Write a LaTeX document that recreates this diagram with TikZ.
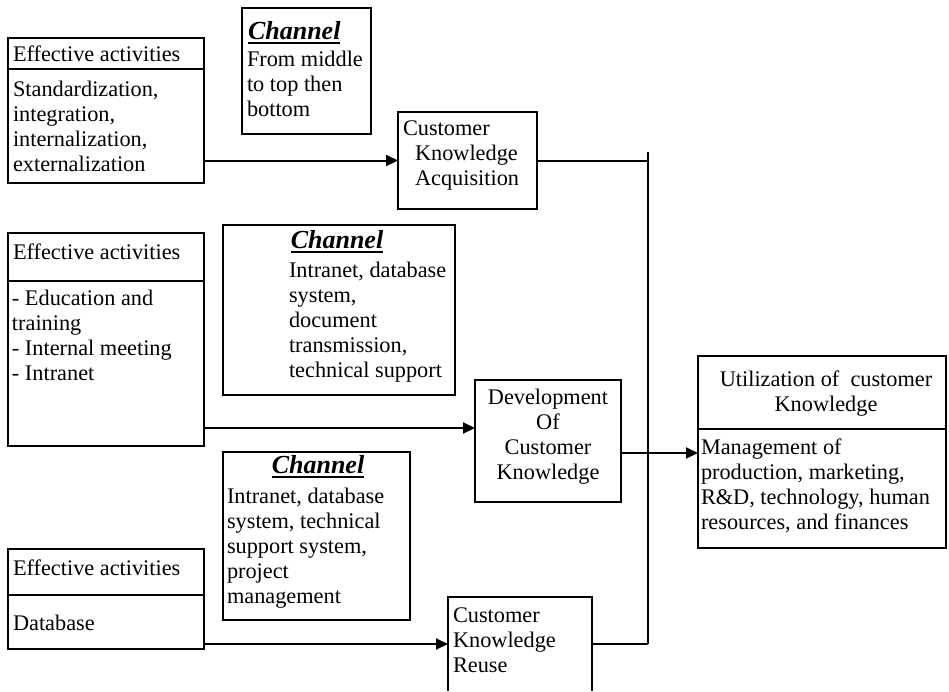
\documentclass[tikz,border=0pt]{standalone}
\usepackage{fontspec}
\setmainfont{Liberation Serif}
\usetikzlibrary{arrows.meta,calc}
\begin{document}
\begin{tikzpicture}[x=1pt,y=-1pt,
  frame/.style={draw, line width=1.5pt, inner sep=0pt, outer sep=0pt, anchor=north west},
  txt/.style={inner sep=0pt, outer sep=0pt, align=left, anchor=west, font=\fontsize{22.3}{25}\selectfont},
  ctxt/.style={txt, align=center, anchor=center},
  chan/.style={inner sep=0pt, outer sep=0pt, font=\fontsize{26}{30}\selectfont\bfseries\itshape},
  uline/.style={line width=2pt},
  conn/.style={line width=2pt},
  arr/.style={conn, -{Triangle[length=12pt,width=11pt]}}]
\useasboundingbox (0,0) rectangle (949,691);

% effective activities: acquisition
\node[frame, minimum width=196pt, minimum height=31pt] (ea1h) at (8,38) {};
\node[frame, minimum width=196pt, minimum height=114pt] (ea1b) at (8,69) {};
\node[txt] (ea1ht) at (13,54) {Effective activities};
\node[txt] (ea1bt) at (13,126) {Standardization,\\integration,\\internalization,\\externalization};

% channel: acquisition
\node[frame, minimum width=129pt, minimum height=126pt] (ch1) at (242,8) {};
\node[chan, anchor=west] (ch1t) at (248,31) {Channel};
\draw[uline] ([yshift=-3pt]ch1t.south west) -- ([yshift=-3pt]ch1t.south east);
\node[txt] (ch1b) at (247,84) {From middle\\to top then\\bottom};

% customer knowledge acquisition
\node[frame, minimum width=139pt, minimum height=97pt] (cka) at (398,112) {};
\node[txt] (ckat) at (403,155) {Customer\\\hspace*{12pt}Knowledge\\\hspace*{12pt}Acquisition};

% effective activities: development
\node[frame, minimum width=196pt, minimum height=48pt] (ea2h) at (8,233) {};
\node[frame, minimum width=196pt, minimum height=165pt] (ea2b) at (8,281) {};
\node[txt] (ea2ht) at (13,252) {Effective activities};
\node[txt] (ea2bt) at (12,335) {- Education and\\training\\- Internal meeting\\- Intranet};

% channel: development
\node[frame, minimum width=232pt, minimum height=170pt] (ch2) at (223,225) {};
\node[chan] (ch2t) at (337,240) {Channel};
\draw[uline] ([yshift=-3pt]ch2t.south west) -- ([yshift=-3pt]ch2t.south east);
\node[txt] (ch2b) at (289,322) {Intranet, database\\system,\\document\\transmission,\\technical support};

% development of customer knowledge
\node[frame, minimum width=146pt, minimum height=122pt] (dev) at (475,380) {};
\node[ctxt] (devt) at (548,437) {Development\\Of\\Customer\\Knowledge};

% utilization
\node[frame, minimum width=248pt, minimum height=73pt] (uh) at (698,356) {};
\node[frame, minimum width=248pt, minimum height=119pt] (ub) at (698,429) {};
\node[ctxt] (uht) at (826,394) {Utilization of\ \ customer\\Knowledge};
\node[txt] (ubt) at (701,486) {Management of\\production, marketing,\\R\&D, technology, human\\resources, and finances};

% channel: reuse
\node[frame, minimum width=187pt, minimum height=168pt] (ch3) at (223,452) {};
\node[chan] (ch3t) at (318,465) {Channel};
\draw[uline] ([yshift=-3pt]ch3t.south west) -- ([yshift=-3pt]ch3t.south east);
\node[txt] (ch3b) at (227,548.5) {Intranet, database\\system, technical\\support system,\\project\\management};

% effective activities: reuse
\node[frame, minimum width=196pt, minimum height=46pt] (ea3h) at (8,549) {};
\node[frame, minimum width=196pt, minimum height=54pt] (ea3b) at (8,595) {};
\node[txt] (ea3ht) at (13,568) {Effective activities};
\node[txt] (ea3bt) at (13,623) {Database};

% customer knowledge reuse (open at the bottom)
\node[inner sep=0pt, outer sep=0pt, anchor=north west, minimum width=144pt, minimum height=94pt] (reuse) at (448,597) {};
\draw[line width=1.5pt] (reuse.south west) -- (reuse.north west) -- (reuse.north east) -- (reuse.south east);
\node[txt] (reuset) at (453,640) {Customer\\Knowledge\\Reuse};

% collecting line and connectors
\coordinate (bustop) at (648,152);
\coordinate (devin) at ($(dev.west)+(0,-13)$);
\coordinate (utilin) at ($(uh.south west)+(0,24)$);
\draw[conn] (bustop) -- (reuse.east -| bustop);
\draw[arr] (cka.west -| ea1b.east) -- (cka.west);
\draw[conn] (cka.east) -- (cka.east -| bustop);
\draw[arr] (devin -| ea2b.east) -- (devin);
\draw[arr] (utilin -| dev.east) -- (utilin);
\draw[arr] (reuse.west -| ea3b.east) -- (reuse.west);
\draw[conn] (reuse.east) -- (reuse.east -| bustop);
\end{tikzpicture}
\end{document}
